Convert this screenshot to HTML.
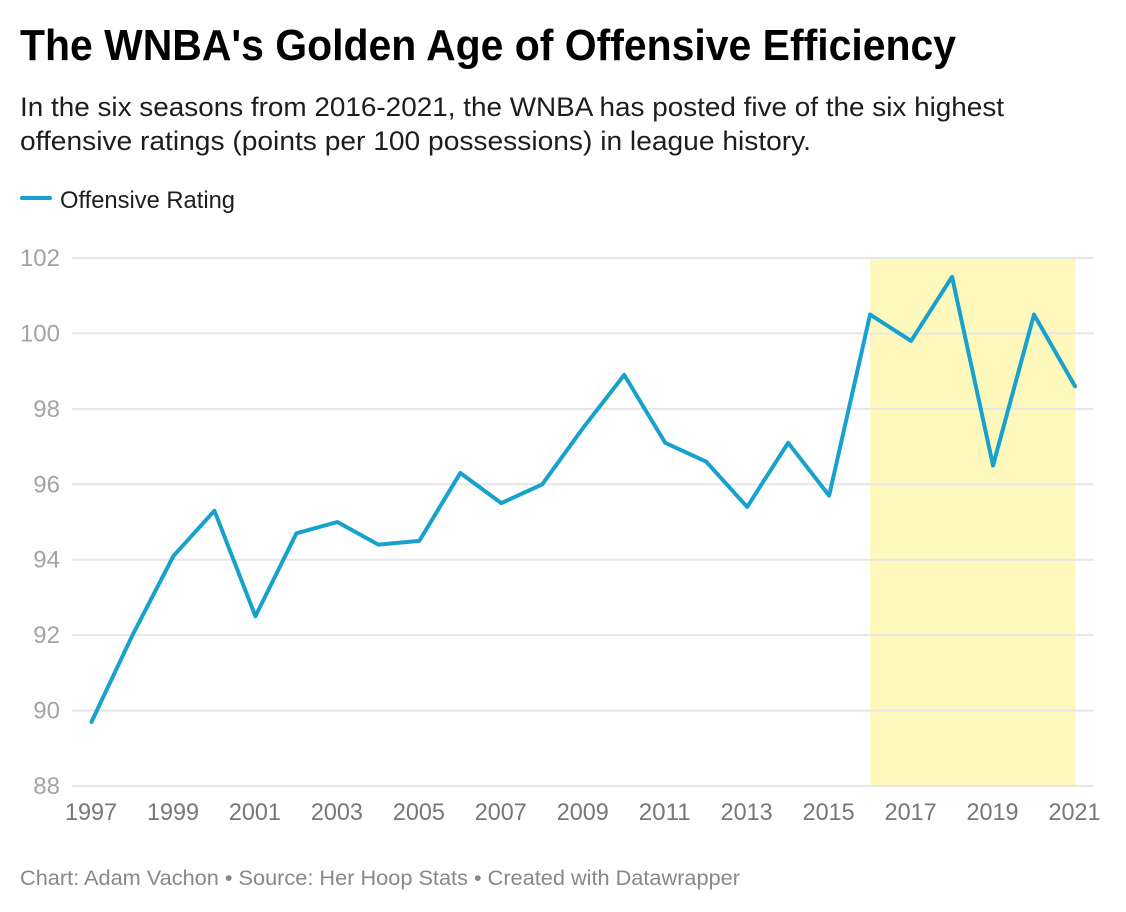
<!DOCTYPE html>
<html lang="en">
<head>
<meta charset="utf-8">
<title>The WNBA's Golden Age of Offensive Efficiency</title>
<style>
html,body{margin:0;padding:0;background:#fff;width:1126px;height:912px;overflow:hidden}
svg{display:block;font-family:"Liberation Sans",sans-serif}
</style>
</head>
<body>
<svg id="chart" xmlns="http://www.w3.org/2000/svg" width="1126" height="912" viewBox="0 0 1126 912">
  <text x="20" y="60" font-size="44" font-weight="700" fill="#000" textLength="936" lengthAdjust="spacingAndGlyphs">The WNBA's Golden Age of Offensive Efficiency</text>
  <text x="20" y="116" font-size="27" fill="#1d1d1d" textLength="984" lengthAdjust="spacingAndGlyphs">In the six seasons from 2016-2021, the WNBA has posted five of the six highest</text>
  <text x="20" y="150" font-size="27" fill="#1d1d1d" textLength="791" lengthAdjust="spacingAndGlyphs">offensive ratings (points per 100 possessions) in league history.</text>
  <line x1="22" y1="198" x2="50" y2="198" stroke="#18a1cd" stroke-width="4" stroke-linecap="round"/>
  <text x="60" y="208" font-size="24" fill="#1d1d1d" textLength="175" lengthAdjust="spacingAndGlyphs">Offensive Rating</text>
  <g id="band"></g>
  <g id="grid"></g>
  <g id="yticks"></g>
  <g id="xticks"></g>
  <g id="series"></g>
  <text x="20" y="885" font-size="21.5" fill="#888" textLength="720" lengthAdjust="spacingAndGlyphs">Chart: Adam Vachon • Source: Her Hoop Stats • Created with Datawrapper</text>
</svg>
<script>
const years = [1997,1998,1999,2000,2001,2002,2003,2004,2005,2006,2007,2008,2009,2010,2011,2012,2013,2014,2015,2016,2017,2018,2019,2020,2021];
const offensiveRating = [89.7,92.0,94.1,95.3,92.5,94.7,95.0,94.4,94.5,96.3,95.5,96.0,97.5,98.9,97.1,96.6,95.4,97.1,95.7,100.5,99.8,101.5,96.5,100.5,98.6];
const yTickValues = [88,90,92,94,96,98,100,102];
const xTickValues = [1997,1999,2001,2003,2005,2007,2009,2011,2013,2015,2017,2019,2021];
const highlightYears = [2016,2021];

const NS = 'http://www.w3.org/2000/svg';
const plot = {left: 91.5, right: 1075, top: 258, bottom: 786, gridLeft: 72, gridRight: 1094};
const xDomain = [1997, 2021];
const yDomain = [88, 102];

function xScale(v) {
  return plot.left + (v - xDomain[0]) / (xDomain[1] - xDomain[0]) * (plot.right - plot.left);
}
function yScale(v) {
  return plot.bottom - (v - yDomain[0]) / (yDomain[1] - yDomain[0]) * (plot.bottom - plot.top);
}
function make(tag, attrs, parent) {
  const el = document.createElementNS(NS, tag);
  for (const k in attrs) el.setAttribute(k, attrs[k]);
  parent.appendChild(el);
  return el;
}

const band = make('rect', {
  x: xScale(highlightYears[0]),
  y: yScale(yDomain[1]),
  width: xScale(highlightYears[1]) - xScale(highlightYears[0]) + 0.5,
  height: yScale(yDomain[0]) - yScale(yDomain[1]),
  fill: '#fef8bd'
}, document.getElementById('band'));



yTickValues.forEach(function (t) {
  const y = yScale(t);
  const line = make('line', {x1: plot.gridLeft, x2: plot.gridRight, y1: y, y2: y, stroke: '#e6e6e6', 'stroke-width': 2}, document.getElementById('grid'));
  
  
  const label = make('text', {x: 60, y: y + 8, 'text-anchor': 'end', 'font-size': 24, fill: '#a3a3a3'}, document.getElementById('yticks'));
  
  
  label.textContent = t;
});

xTickValues.forEach(function (t) {
  const label = make('text', {x: xScale(t) - 0.5, y: 820, 'text-anchor': 'middle', 'font-size': 24, fill: '#777', textLength: 52, lengthAdjust: 'spacingAndGlyphs'}, document.getElementById('xticks'));
  
  
  label.textContent = t;
});

const points = years.map(function (yr, i) {
  return xScale(yr).toFixed(2) + ',' + yScale(offensiveRating[i]).toFixed(2);
}).join(' ');
const seriesLine = make('polyline', {
  points: points,
  fill: 'none',
  stroke: '#18a1cd',
  'stroke-width': 4,
  'stroke-linejoin': 'round',
  'stroke-linecap': 'round'
}, document.getElementById('series'));


</script>
</body>
</html>
